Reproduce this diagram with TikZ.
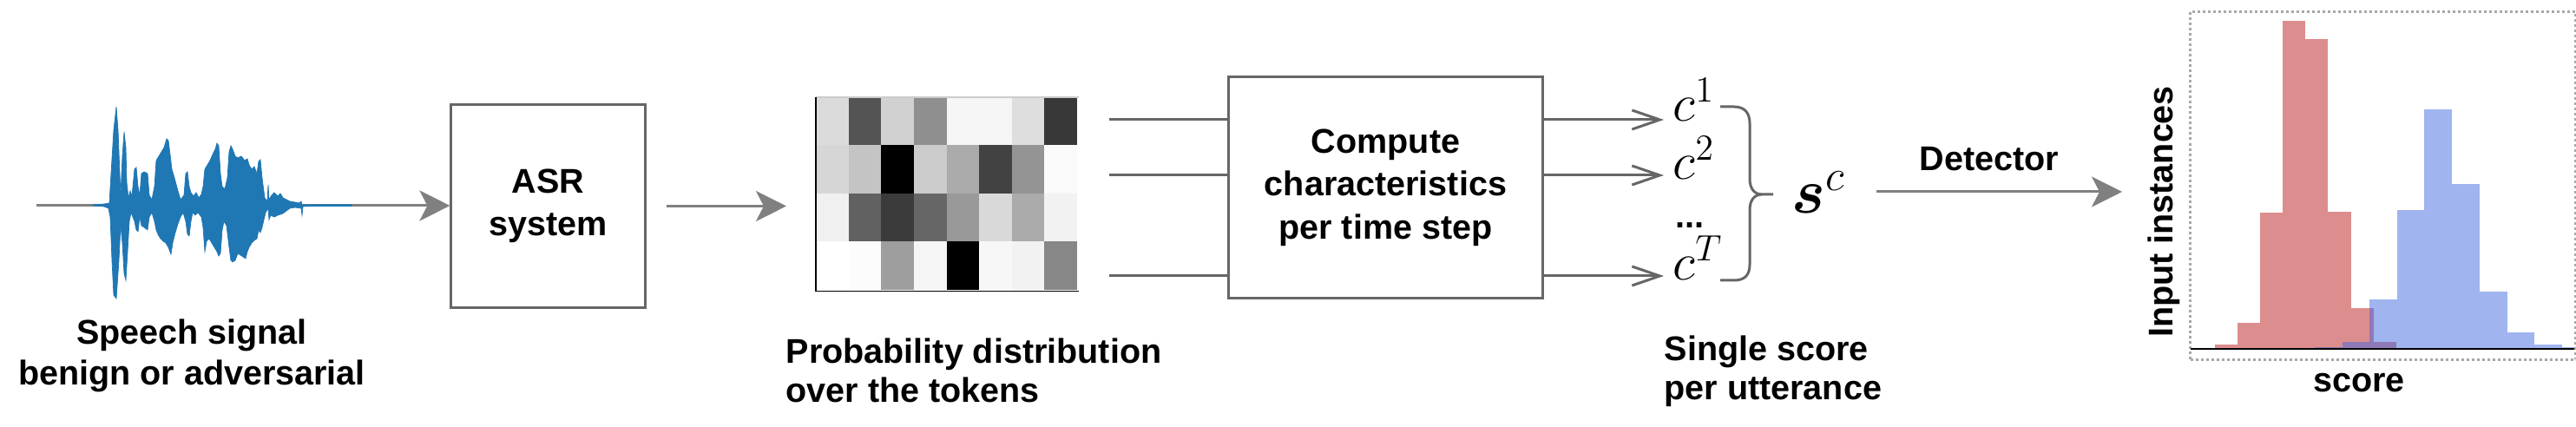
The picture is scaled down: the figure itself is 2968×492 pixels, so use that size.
\documentclass[tikz,border=0pt]{standalone}
\usepackage{amsmath}
\usepackage{fontspec}
\setmainfont{Liberation Sans}
\usetikzlibrary{arrows.meta}
\definecolor{boxgray}{HTML}{666666}
\definecolor{arrgray}{HTML}{808080}
\definecolor{wave}{HTML}{1F77B4}
\definecolor{redbar}{RGB}{205,92,92}
\definecolor{bluebar}{RGB}{65,105,225}
\definecolor{dotgray}{HTML}{A8A8A8}
\begin{document}
\begin{tikzpicture}[x=0.01cm,y=-0.01cm,
  lbl/.style={font=\fontsize{11.24}{13.2}\selectfont\bfseries, align=center, inner sep=0pt},
  lbll/.style={font=\fontsize{11.24}{12.9}\selectfont\bfseries, align=left, inner sep=0pt, anchor=west},
  block/.style={draw=boxgray, line width=0.85pt, inner sep=0pt, align=center,
    font=\fontsize{11.24}{14.1}\selectfont\bfseries},
  mathlbl/.style={font=\fontsize{16.5}{20}\selectfont, inner sep=0pt, anchor=base west},
  fatarrow/.style={draw=arrgray, line width=0.85pt, -{Stealth[length=0.35cm,width=0.35cm,inset=0.09cm]}},
  openarrow/.style={draw=boxgray, line width=0.85pt, -{Straight Barb[length=0.32cm,width=0.22cm]}},
  plainline/.style={draw=boxgray, line width=0.85pt},
  redhist/.style={fill=redbar, fill opacity=0.7},
  bluehist/.style={fill=bluebar, fill opacity=0.5},
]
\useasboundingbox (0,0) rectangle (2968,492);

% ---------- speech signal ----------
\coordinate (ws) at (42,237);
\node[block, minimum width=2.23cm, minimum height=2.33cm] (asr) at (631.5,237.5) {ASR\\system};
\draw[fatarrow] (ws) -- (ws -| asr.west);
\fill[wave, draw=wave, line width=0.2pt]
 (107,236) -- (120,235) -- (126,234) -- (128,200) -- (131,150) -- (134,123) -- (136,150) -- (138,200) -- (139,225) -- (141,180) -- (143,152) -- (145,170) -- (146,210) -- (148,228) -- (150,220) -- (152,226) -- (155,195) -- (157,193) -- (159,215) -- (161,225) -- (163,200) -- (166,198) -- (170,200) -- (172,225) -- (175,230) -- (178,215) -- (180,185) -- (183,180) -- (186,175) -- (189,170) -- (192,160) -- (194,162) -- (196,178) -- (198,195) -- (201,205) -- (205,220) -- (208,230) -- (212,225) -- (214,200) -- (216,198) -- (218,215) -- (220,222) -- (223,226) -- (226,222) -- (229,228) -- (232,224) -- (234,215) -- (236,195) -- (239,190) -- (242,185) -- (245,178) -- (248,172) -- (250,165) -- (252,168) -- (254,200) -- (256,215) -- (259,218) -- (262,205) -- (264,175) -- (266,168) -- (268,172) -- (271,180) -- (274,182) -- (278,180) -- (282,185) -- (285,183) -- (287,190) -- (290,195) -- (293,192) -- (296,200) -- (298,186) -- (300,184) -- (302,205) -- (305,228) -- (308,232) -- (309,213) -- (310,230) -- (313,225) -- (316,222) -- (320,226) -- (323,223) -- (326,228) -- (330,230) -- (334,232) -- (340,233) -- (345,234) -- (347,232) -- (348,236) -- (360,235.8) -- (405,235.8)
 -- (405,237.5) -- (360,237.5) -- (349,238) -- (348,248) -- (347,240) -- (340,239) -- (334,240) -- (330,243) -- (326,246) -- (320,248) -- (316,250) -- (312,248) -- (310,253) -- (309,240) -- (306,245) -- (302,262) -- (300,268) -- (298,265) -- (296,275) -- (293,277) -- (290,280) -- (287,285) -- (285,290) -- (283,298) -- (280,296) -- (277,294) -- (274,292) -- (271,300) -- (268,302) -- (266,300) -- (264,285) -- (261,260) -- (258,255) -- (256,265) -- (254,292) -- (252,295) -- (250,290) -- (247,285) -- (244,280) -- (241,275) -- (238,278) -- (236,290) -- (234,262) -- (232,250) -- (228,245) -- (225,248) -- (222,245) -- (220,255) -- (218,272) -- (216,270) -- (214,255) -- (211,245) -- (208,250) -- (205,258) -- (202,268) -- (199,280) -- (197,293) -- (194,285) -- (191,280) -- (188,278) -- (185,275) -- (182,270) -- (180,265) -- (178,255) -- (175,245) -- (172,250) -- (170,265) -- (166,262) -- (163,260) -- (161,250) -- (159,267) -- (157,265) -- (155,255) -- (153,250) -- (151,245) -- (149,255) -- (147,290) -- (145,323) -- (143,315) -- (141,280) -- (139,260) -- (137,300) -- (134,344) -- (131,340) -- (129,300) -- (127,250) -- (125,240) -- (120,238) -- (107,237) -- cycle;
\node[lbl] (speechlbl) at (221,410) {Speech signal\\benign or adversarial};

% ---------- probability matrix ----------
\node[minimum width=3.01cm, minimum height=2.22cm, inner sep=0pt, anchor=north west] (mat) at (940,112) {};
\foreach \vals [count=\r from 0] in {{86,33,82,56,96,96,87,22},{84,77,0,80,67,26,58,98},{94,38,23,40,60,85,67,95},{100,99,62,96,0,97,95,53}} {
  \foreach \v [count=\c from 0] in \vals {
    \fill[white!\v!black] ({940+\c*37.625},{112+\r*55.5}) rectangle ++(37.7,55.6);
  }
}
\draw[black!20, line width=0.4pt] (mat.north west) -- (mat.north east);
\draw[black, line width=0.5pt] (mat.north west) -- (mat.south west) -- (mat.south east);
\draw[fatarrow, shorten <=0.23cm, shorten >=0.34cm] (asr.east) -- (asr.east -| mat.west);
\node[lbll] (problbl) at (905,427) {Probability distribution\\over the tokens};

% ---------- compute block ----------
\node[block, minimum width=3.61cm, minimum height=2.54cm] (comp) at (1596.5,216) {Compute\\characteristics\\per time step};
\coordinate (m1) at (1278,138);
\coordinate (m2) at (1278,202);
\coordinate (m3) at (1278,318);
\draw[plainline] (m1) -- (m1 -| comp.west);
\draw[plainline] (m2) -- (m2 -| comp.west);
\draw[plainline] (m3) -- (m3 -| comp.west);

% ---------- per time step outputs ----------
\node[mathlbl] (c1) at (1927,140) {$c^1$};
\node[mathlbl] (c2) at (1927,207) {$c^2$};
\node[mathlbl, font=\fontsize{11.24}{13}\selectfont\bfseries] (cdots) at (1930,263) {...};
\node[mathlbl] (cT) at (1927,323) {$c^T$};
\coordinate (t1) at (1917,138);
\coordinate (t2) at (1917,202);
\coordinate (t3) at (1917,318);
\draw[openarrow] (m1 -| comp.east) -- (t1);
\draw[openarrow] (m2 -| comp.east) -- (t2);
\draw[openarrow] (m3 -| comp.east) -- (t3);

% brace
\coordinate (btop) at (1982,123);
\coordinate (btip) at (2043,224);
\coordinate (bbot) at (1982,323);
\draw[plainline] (btop) -- (1998,123) .. controls (2010,123) and (2016,130) .. (2016,142) -- (2016,206)
  .. controls (2016,218) and (2022,224) .. (2030,224) -- (btip);
\draw[plainline] (2030,224) .. controls (2022,224) and (2016,230) .. (2016,242) -- (2016,305)
  .. controls (2016,317) and (2010,323) .. (1998,323) -- (bbot);

\node[mathlbl, font=\fontsize{19.5}{23}\selectfont] (sc) at (2064,246) {$\boldsymbol{s}^{c}$};
\node[lbll] (singlelbl) at (1917,427.5) {Single score\\per utterance};

% ---------- detector ----------
\coordinate (det0) at (2162,221);
\coordinate (det1) at (2445,221);
\draw[fatarrow] (det0) -- (det1);
\node[lbl, anchor=base] (detlbl) at (2292,197) {Detector};

% ---------- histogram ----------
\node[draw=dotgray, line width=0.03cm, dash pattern=on 0.03cm off 0.03cm, minimum width=4.44cm, minimum height=4.01cm, inner sep=0pt, anchor=north west] (hist) at (2522,12) {};
% red bars
\fill[redhist] (2551.7,402) rectangle (2577.7,397.3);
\fill[redhist] (2577.7,402) rectangle (2604,371.7);
\fill[redhist] (2604,402) rectangle (2630,245);
\fill[redhist] (2630,402) rectangle (2656,24);
\fill[redhist] (2656,402) rectangle (2682.3,45);
\fill[redhist] (2682.3,402) rectangle (2708.7,244);
\fill[redhist] (2708.7,402) rectangle (2735,355.3);
\fill[redhist] (2735,402) rectangle (2761,394);
% blue bars
\fill[bluehist] (2666.7,402) rectangle (2699,400);
\fill[bluehist] (2699,402) rectangle (2730,394);
\fill[bluehist] (2730,402) rectangle (2761.7,345);
\fill[bluehist] (2761.7,402) rectangle (2793.3,241.7);
\fill[bluehist] (2793.3,402) rectangle (2825,126);
\fill[bluehist] (2825,402) rectangle (2856.7,212);
\fill[bluehist] (2856.7,402) rectangle (2888.7,336);
\fill[bluehist] (2888.7,402) rectangle (2920,383);
\fill[bluehist] (2920,402) rectangle (2951.7,396.7);
\fill[bluehist] (2951.7,402) rectangle (2966,400);
\draw[black, line width=0.45pt] (2524,402) -- (2966,402);
\node[lbl, anchor=base, rotate=90] (ylbl) at (2503,244) {Input instances};
\node[lbl, anchor=base] (xlbl) at (2718,452) {score};
\end{tikzpicture}
\end{document}
